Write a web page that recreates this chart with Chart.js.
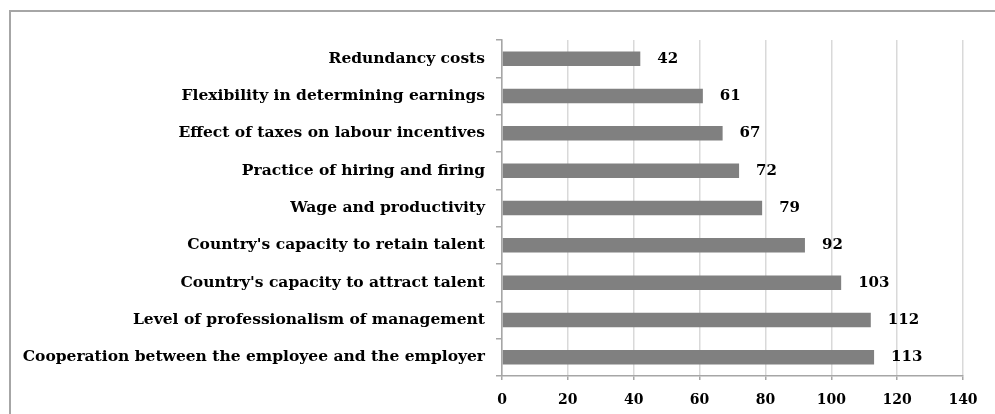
<!DOCTYPE html>
<html>
<head>
<meta charset="utf-8">
<script src="https://cdn.jsdelivr.net/npm/chart.js@4.4.1/dist/chart.umd.min.js"></script>
<style>
  html, body { margin: 0; padding: 0; background: #fff; overflow: hidden; }
  #wrap { position: relative; width: 995px; height: 414px; }
  #frame { position: absolute; left: 9px; top: 10px; width: 1000px; height: 420px; border: 2px solid #a6a6a6; box-sizing: border-box; }
  canvas { position: absolute; left: 0; top: 0; }
</style>
</head>
<body>
<div id="wrap">
  <div id="frame"></div>
  <canvas id="chart" width="995" height="414"></canvas>
</div>
<script>
// categories, top to bottom
const categories = [
  'Redundancy costs',
  'Flexibility in determining earnings',
  'Effect of taxes on labour incentives',
  'Practice of hiring and firing',
  'Wage and productivity',
  "Country's capacity to retain talent",
  "Country's capacity to attract talent",
  'Level of professionalism of management',
  'Cooperation between the employee and the employer'
];
const values = [42, 61, 67, 72, 79, 92, 103, 112, 113];
const xTicks = [0, 20, 40, 60, 80, 100, 120, 140];

const FONT = "'DejaVu Serif', serif";

// value labels right of each bar
const valueLabels = {
  id: 'valueLabels',
  afterDatasetsDraw(chart) {
    const ctx = chart.ctx;
    const meta = chart.getDatasetMeta(0);
    ctx.save();
    ctx.font = 'bold 15px ' + FONT;
    ctx.fillStyle = '#000';
    ctx.textBaseline = 'middle';
    ctx.textAlign = 'left';
    meta.data.forEach((bar, i) => {
      ctx.fillText(String(values[i]), bar.x + 17, bar.y);
    });
    ctx.restore();
  }
};

new Chart(document.getElementById('chart'), {
  type: 'bar',
  data: {
    labels: categories,
    datasets: [{
      data: values,
      backgroundColor: '#808080',
      borderWidth: 0,
      categoryPercentage: 1,
      barPercentage: 0.39
    }]
  },
  options: {
    indexAxis: 'y',
    responsive: false,
    animation: false,
    layout: { padding: { top: 40, right: 32, bottom: 0, left: 0 } },
    plugins: { legend: { display: false }, tooltip: { enabled: false } },
    scales: {
      x: {
        min: 0,
        max: 140,
        afterBuildTicks(scale) { scale.ticks = xTicks.map(v => ({ value: v })); },
        afterFit(scale) { scale.height = 38; },
        grid: { color: '#d9d9d9', lineWidth: 1.5, tickLength: 4, tickColor: '#a6a6a6' },
        border: { color: '#a6a6a6', width: 1.5 },
        ticks: { color: '#000', padding: 12, font: { family: FONT, size: 14, weight: 'bold' } }
      },
      y: {
        afterFit(scale) { scale.width = 502; },
        grid: { offset: true, drawOnChartArea: false, tickLength: 6, color: '#a6a6a6', lineWidth: 1.5 },
        border: { color: '#a6a6a6', width: 1.5 },
        ticks: { color: '#000', padding: 11, font: { family: FONT, size: 15.5, weight: 'bold' } }
      }
    }
  },
  plugins: [valueLabels]
});
</script>
</body>
</html>
